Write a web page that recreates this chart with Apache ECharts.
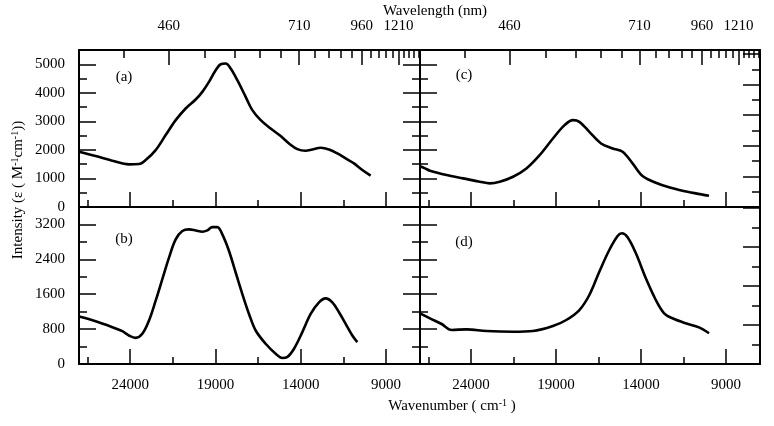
<!DOCTYPE html>
<html>
<head>
<meta charset="utf-8">
<script src="https://cdn.jsdelivr.net/npm/echarts@6/dist/echarts.min.js"></script>
<style>html,body{margin:0;padding:0;background:#fff;}#chart{width:774px;height:426px;}</style>
</head>
<body>
<div id="chart"></div>
<script>
// ---- tick values ----
const wavenumberLabels = [24000, 19000, 14000, 9000];
const wavenumberMinor = [26500, 21500, 16500, 11500];
const wavelengthLabels = [460, 710, 960, 1210];
const wavelengthMinor = [410, 510, 560, 610, 660, 760, 810, 860, 910, 1010, 1060, 1110, 1160, 1260, 1310, 1360, 1410];

// ---- panel (a) ----
const wnA = [27000, 26022, 25045, 24068, 23481, 23090, 22504, 21917, 21330, 20744, 20158, 19767, 19376, 18985, 18691, 18398, 18105, 17714, 17225, 16834, 16345, 15759, 15172, 14684, 14195, 13706, 13315, 12826, 12338, 11849, 11360, 10871, 10383, 9894];
const epsA = [1936, 1784, 1621, 1493, 1504, 1644, 1994, 2519, 3043, 3451, 3766, 4034, 4384, 4792, 5002, 5025, 4851, 4443, 3859, 3393, 3043, 2752, 2484, 2227, 2029, 1971, 2017, 2075, 2017, 1877, 1702, 1527, 1294, 1096];
// ---- panel (b) ----
const wnB = [27000, 26022, 25045, 24459, 24068, 23677, 23286, 22894, 22504, 22112, 21721, 21330, 20939, 20549, 20158, 19767, 19474, 19180, 18887, 18594, 18202, 17811, 17420, 17029, 16638, 16052, 15465, 15074, 14781, 14390, 13902, 13413, 12924, 12533, 12142, 11751, 11360, 10969, 10676];
const epsB = [1087, 980, 844, 752, 654, 600, 692, 996, 1452, 1946, 2440, 2858, 3048, 3086, 3063, 3032, 3063, 3139, 3139, 2972, 2592, 2098, 1604, 1148, 768, 464, 236, 137, 160, 350, 730, 1148, 1414, 1505, 1414, 1186, 920, 654, 502];
// ---- panel (c) ----
const wnC = [27000, 26707, 26413, 25435, 24457, 23481, 22894, 22308, 21526, 20743, 19963, 19180, 18495, 18006, 17625, 17038, 16351, 15670, 15083, 14497, 13910, 13128, 12346, 11565, 10783, 10000];
const epsC = [1434, 1352, 1270, 1119, 1003, 886, 827, 886, 1061, 1352, 1818, 2401, 2867, 3042, 2984, 2634, 2226, 2051, 1935, 1527, 1084, 851, 688, 571, 478, 396];
// ---- panel (d) ----
const wnD = [27000, 26413, 25728, 25142, 24262, 23089, 21526, 20352, 19179, 18397, 17625, 17038, 16452, 15865, 15377, 15120, 14790, 14301, 13715, 13128, 12639, 12151, 11369, 10587, 10000];
const epsD = [1162, 1047, 917, 780, 795, 757, 741, 757, 871, 1009, 1238, 1582, 2116, 2614, 2935, 2997, 2905, 2538, 1965, 1468, 1162, 1048, 933, 841, 704];

const panelLabels = ['(a)', '(b)', '(c)', '(d)'];

const FONT = '"Liberation Serif", "Times New Roman", serif';
const grids = [
  {left: 79, top: 50, width: 341, height: 157},
  {left: 79, top: 207, width: 341, height: 157},
  {left: 420, top: 50, width: 340, height: 157},
  {left: 420, top: 207, width: 340, height: 157}
];
// y scales: [max, majorInterval, minorInterval]
const yLeft = [[5500, 1000, 500], [3600, 800, 400], [5500, 1000, 500], [3600, 800, 400]];
const yRight = [[5500, 1000, 500], [3600, 800, 400], [10.26, 2, 1], [8.05, 2, 1]];

const xAxis = [], yAxis = [];
const axisLineStyle = {show: true, onZero: false, lineStyle: {color: '#000', width: 2}};
const noLine = {show: false, onZero: false};
function baseX(g) {
  return {type: 'value', gridIndex: g, min: 7000, max: 27000, inverse: true,
    splitLine: {show: false}, axisLine: noLine, axisTick: {show: false}, axisLabel: {show: false}};
}
const bottomIdx = [];
for (let g = 0; g < 4; g++) {
  const bottomLabels = (g === 1 || g === 3);
  bottomIdx.push(xAxis.length);
  xAxis.push(Object.assign(baseX(g), {
    position: 'bottom',
    axisLine: axisLineStyle,
    axisTick: {show: true, inside: true, length: 15, lineStyle: {color: '#000', width: 1.5}, customValues: wavenumberLabels},
    axisLabel: {show: bottomLabels, customValues: wavenumberLabels, margin: 14, color: '#000', fontFamily: FONT, fontSize: 15, formatter: v => String(v)}
  }));
  xAxis.push(Object.assign(baseX(g), {
    position: 'bottom',
    axisTick: {show: true, inside: true, length: 7, lineStyle: {color: '#000', width: 1.5}, customValues: wavenumberMinor}
  }));
  if (g === 0 || g === 2) {
    const majorPos = wavelengthLabels.map(l => 1e7 / l);
    const minorPos = wavelengthMinor.map(l => 1e7 / l);
    xAxis.push(Object.assign(baseX(g), {
      position: 'top',
      axisLine: axisLineStyle,
      axisTick: {show: true, inside: true, length: 15, lineStyle: {color: '#000', width: 1.5}, customValues: majorPos},
      axisLabel: {show: true, customValues: majorPos, margin: 16, color: '#000', fontFamily: FONT, fontSize: 15, formatter: v => String(Math.round(1e7 / v))}
    }));
    xAxis.push(Object.assign(baseX(g), {
      position: 'top',
      axisTick: {show: true, inside: true, length: 8, lineStyle: {color: '#000', width: 1.5}, customValues: minorPos}
    }));
  }
  const sides = [['left', yLeft[g], g < 2], ['right', yRight[g], false]];
  sides.forEach(([pos, sc, lab]) => {
    yAxis.push({type: 'value', gridIndex: g, position: pos, min: 0, max: sc[0], interval: sc[1],
      splitLine: {show: false}, axisLine: axisLineStyle,
      axisTick: {show: true, inside: true, length: 17, lineStyle: {color: '#000', width: 1.5}},
      axisLabel: {show: lab, showMaxLabel: false, margin: 14, color: '#000', fontFamily: FONT, fontSize: 15, formatter: v => String(v)}
    });
    yAxis.push({type: 'value', gridIndex: g, position: pos, min: 0, max: sc[0], interval: sc[2],
      splitLine: {show: false}, axisLine: noLine,
      axisTick: {show: true, inside: true, length: 8, lineStyle: {color: '#000', width: 1.5}},
      axisLabel: {show: false}
    });
  });
}

const wnAll = [wnA, wnB, wnC, wnD];
const epsAll = [epsA, epsB, epsC, epsD];
const series = wnAll.map((wn, g) => ({
  type: 'line',
  xAxisIndex: bottomIdx[g],
  yAxisIndex: g * 4,
  data: wn.map((w, i) => [w, epsAll[g][i]]),
  smooth: 0.35,
  showSymbol: false,
  silent: true,
  lineStyle: {color: '#000', width: 2.6},
  animation: false
}));

const labelPos = [[124, 77], [124, 239], [464, 75], [464, 242]];
const graphic = panelLabels.map((t, i) => ({
  type: 'text', x: labelPos[i][0], y: labelPos[i][1],
  style: {text: t, fill: '#000', font: '15px ' + FONT, align: 'center', verticalAlign: 'middle'}
}));
graphic.push({type: 'text', x: 435, y: 11,
  style: {text: 'Wavelength (nm)', fill: '#000', font: '15px ' + FONT, align: 'center', verticalAlign: 'middle'}});
graphic.push({type: 'text', x: 452, y: 406,
  style: {text: 'Wavenumber ( cm{s|-1} )', fill: '#000', font: '15px ' + FONT, align: 'center', verticalAlign: 'middle',
    rich: {s: {fontSize: 10, fontFamily: FONT, fill: '#000', verticalAlign: 'top', padding: [0, 0, 6, 0]}}}});
graphic.push({type: 'text', x: 18, y: 190, rotation: Math.PI / 2,
  style: {text: 'Intensity (ε ( M{s|-1}cm{s|-1}))', fill: '#000', font: '15px ' + FONT, align: 'center', verticalAlign: 'middle',
    rich: {s: {fontSize: 10, fontFamily: FONT, fill: '#000', verticalAlign: 'top', padding: [0, 0, 6, 0]}}}});

const chart = echarts.init(document.getElementById('chart'), null, {renderer: 'canvas'});
chart.setOption({
  animation: false,
  backgroundColor: '#fff',
  grid: grids,
  xAxis: xAxis,
  yAxis: yAxis,
  series: series,
  graphic: graphic
});
</script>
</body>
</html>
